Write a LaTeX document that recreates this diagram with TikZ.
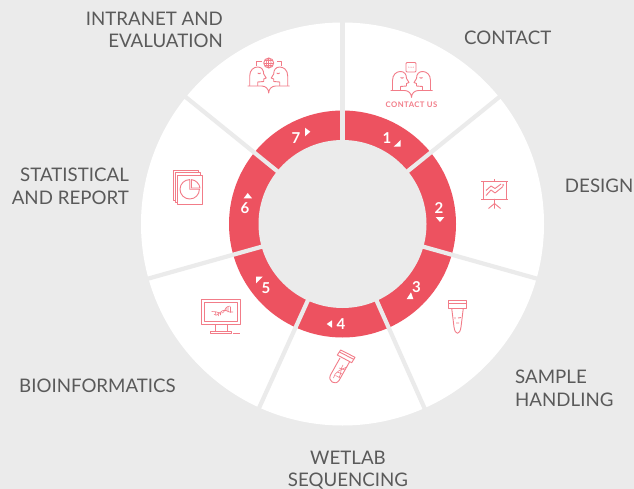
\documentclass[tikz,border=0pt]{standalone}
\usepackage{fontspec}
\usetikzlibrary{calc}
\setmainfont{Lato}
\definecolor{bgray}{HTML}{EBEBEB}
\definecolor{ringred}{HTML}{ED5260}
\definecolor{iconred}{HTML}{F27C88}
\definecolor{labelgray}{HTML}{5A5A5A}
\tikzset{
  label text/.style={text=labelgray,inner sep=0pt,font=\fontsize{18.7}{22.3}\selectfont},
  num text/.style={text=white,inner sep=0pt,font=\fontsize{15}{16}\selectfont\bfseries},
  icon/.style={draw=iconred,line width=0.9pt,line join=round},
  divider/.style={draw=bgray,line width=4.2pt},
  arrowmark/.style={fill=white,draw=none},
  heads/.pic={
    \foreach \s in {1,-1}{
      \begin{scope}[xscale=\s]
        \draw[icon] (-19,0) -- (-19,-10) .. controls (-19,-16) and (-15,-19) .. (-11,-19)
          .. controls (-7,-19) and (-5,-16) .. (-5,-12) -- (-2.5,-8) -- (-5,-7) -- (-5,-4.5)
          -- (-11,-4) -- (-11,0);
        \draw[icon] (-11,-13) .. controls (-10,-12) and (-9,-12) .. (-8,-13);
      \end{scope}
    }
    \draw[icon] (-21,0) -- (-7,0) .. controls (-3,0) and (0,3) .. (0,7)
      .. controls (0,3) and (3,0) .. (7,0) -- (21,0);
  }
}
\begin{document}
\begin{tikzpicture}[x=1pt,y=-1pt]
\useasboundingbox (0,0) rectangle (634,489);
\fill[bgray] (0,0) rectangle (634,489);
\coordinate (c) at (342.5,224);
\fill[white] (c) circle[radius=201.5];
\fill[ringred] (c) circle[radius=113.5];
\fill[bgray] (c) circle[radius=84];
\foreach \a in {90,39,-15.7,-66,-114.4,-164.3,141}{
  \draw[divider] ($(c)+(-\a:80)$) -- ($(c)+(-\a:204)$);
}
% ring numbers
\node[num text] (n1) at (387,138) {1};
\node[num text] (n2) at (439,208) {2};
\node[num text] (n3) at (416.5,287) {3};
\node[num text] (n4) at (341,324.5) {4};
\node[num text] (n5) at (266,288) {5};
\node[num text] (n6) at (245,208) {6};
\node[num text] (n7) at (296,138) {7};
\fill[arrowmark] (393.7,146.7) -- (400.7,146.7) -- (400.7,140) -- cycle;
\fill[arrowmark] (435.7,217) -- (444.3,217) -- (440,222) -- cycle;
\fill[arrowmark] (406.7,299) -- (413.3,299) -- (411,292.3) -- cycle;
\fill[arrowmark] (326.7,324) -- (332,320.3) -- (332,327.7) -- cycle;
\fill[arrowmark] (256,276.7) -- (262.7,276.7) -- (256,283.3) -- cycle;
\fill[arrowmark] (243.7,198.3) -- (252,198.3) -- (247.7,193) -- cycle;
\fill[arrowmark] (305,127.7) -- (310.3,131.7) -- (305,136.3) -- cycle;
% labels
\node[label text,align=right,anchor=north east] (l7) at (223,12) {INTRANET AND\\EVALUATION};
\node[label text,anchor=west] (l1) at (464,37.5) {CONTACT};
\node[label text,anchor=east] (l2) at (633.5,185.5) {DESIGN};
\node[label text,align=left,anchor=north west] (l3) at (515,370) {SAMPLE\\HANDLING};
\node[label text,align=center,anchor=north] (l4) at (348,450.5) {WETLAB\\SEQUENCING};
\node[label text,anchor=west] (l5) at (19,385.5) {BIOINFORMATICS};
\node[label text,align=right,anchor=north east] (l6) at (129,168) {STATISTICAL\\AND REPORT};
% contact icon
\pic at (411.5,90.5) {heads};
\draw[icon,fill=white,rounded corners=1pt] (406,62.5) rectangle (416,72);
\foreach \x in {408.8,411,413.2}{\fill[iconred] (\x,67.2) circle[radius=0.55];}
\node[text=iconred,inner sep=0pt,font=\fontsize{7.7}{8}\selectfont\bfseries\addfontfeature{LetterSpace=6}] (cu) at (411.5,105) {CONTACT US};
% intranet icon
\pic at (268.7,86) {heads};
\draw[icon] (268.7,63) circle[radius=5];
\draw[icon,line width=0.6pt] (263.7,63) -- (273.7,63) (264.5,60.5) -- (272.9,60.5) (264.5,65.5) -- (272.9,65.5) (268.7,58) -- (268.7,68);
\draw[icon,line width=0.6pt] (268.7,63) ellipse[x radius=2.4,y radius=5];
\draw[icon] (256.6,66) -- (256.6,61) -- (261.5,61) (281.7,66) -- (281.7,61) -- (276.8,61);
% design icon
\draw[icon] (481,181) -- (508,181) (494.5,179.5) -- (494.5,181);
\draw[icon] (483,181) rectangle (506,199);
\draw[icon] (481,199) -- (508,199);
\draw[icon] (494.5,199) -- (494.5,208.5) (494.5,203.5) -- (488.5,208.5) (494.5,203.5) -- (500.5,208.5);
\draw[icon] (486,195.5) -- (491,190) -- (495,193) -- (503,186.5);
\draw[icon] (486,190.5) -- (491,186) -- (495,188.5) -- (501,184);
\fill[iconred] (503,185) circle[radius=1];
% sample tube icon
\draw[icon] (448.3,300.7) rectangle (466.3,308.3);
\draw[icon] (448.3,303) -- (466.3,303);
\draw[icon] (451.7,308.3) -- (454,327) .. controls (454.5,331) and (456,333.3) .. (457.5,333.3)
  .. controls (459,333.3) and (460.5,331) .. (461,327) -- (463.3,308.3);
\draw[icon] (455,317) -- (455,319) (458,318) -- (461,317.5) (456,323) -- (459,323);
% wetlab tube icon
\draw[icon] (340.7,350) -- (355,357.3) -- (351.7,362.7) -- (337.3,355) -- cycle;
\draw[icon] (339.5,352) -- (354,359.5);
\draw[icon] (340,358) -- (330.5,375) .. controls (327.5,381) and (335,386) .. (339,380.5) -- (349.5,362);
\draw[icon,line width=0.6pt] (343,365) .. controls (340,369) and (342,372) .. (339,378);
\draw[icon,line width=0.6pt] (347,367) .. controls (342,369) and (334,372) .. (333.5,378);
\draw[icon,line width=0.6pt] (339,368) -- (345,370) (337.5,372) -- (342,374) (335.5,375.5) -- (339.5,377.5);
% monitor icon
\draw[icon] (201.7,299.3) rectangle (240.3,324);
\draw[icon] (204.3,302.3) rectangle (237.7,321.7);
\draw[icon] (215.7,324) -- (215.7,331) (227,324) -- (227,331);
\draw[icon] (210.3,331) rectangle (231.7,333.7);
\draw[icon] (233,333.2) -- (240,333.2);
\draw[icon,line width=0.6pt] (211.7,311.5) .. controls (218,310.5) and (222,317) .. (225,309.5) .. controls (226,307) and (228,306) .. (230,306);
\draw[icon,line width=0.6pt] (214,314.5) .. controls (218,318) and (221,308) .. (226,310.5) .. controls (228,312) and (231,312.5) .. (233,312);
\draw[icon,line width=0.6pt] (215.5,312) -- (216,315.5) (218,312.5) -- (218.5,316) (220.5,313) -- (220.5,315) (226,307.5) -- (226,311) (228,306.5) -- (228,312) (230.5,306.5) -- (230.5,312.5);
% report icon
\draw[icon,fill=white] (173.3,170.3) rectangle (198.7,200);
\draw[icon,fill=white] (175.3,172.7) rectangle (200.7,202);
\draw[icon,fill=white] (177.3,175) rectangle (202.7,204.3);
\draw[icon] (189.7,179.6) arc[start angle=-90,end angle=-360,radius=9.7] -- (189.7,189.3) -- cycle;
\draw[icon] (191.3,179.6) .. controls (196,180) and (199.5,184) .. (200,188) -- (191.3,188) -- cycle;
\end{tikzpicture}
\end{document}
